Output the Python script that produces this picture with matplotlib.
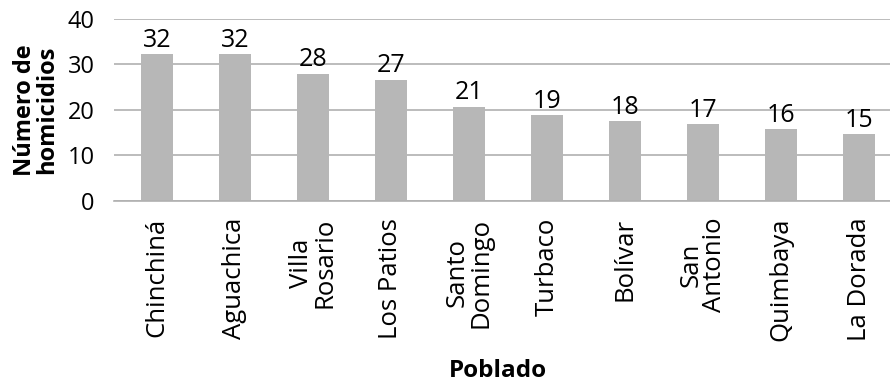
import matplotlib
matplotlib.use("Agg")
import matplotlib.pyplot as plt

plt.rcParams['font.family'] = ['Open Sans', 'DejaVu Sans']

categories = ["Chinchiná", "Aguachica", "Villa\nRosario", "Los Patios", "Santo\nDomingo",
              "Turbaco", "Bolívar", "San\nAntonio", "Quimbaya", "La Dorada"]
values = [32.2, 32.2, 28.0, 26.7, 20.7, 18.8, 17.6, 16.9, 15.8, 14.7]
yticks = [0, 10, 20, 30, 40]

fig = plt.figure(figsize=(8.9, 3.83), dpi=100)
ax = fig.add_axes([114/890, 1 - 201/383, 776/890, 182/383])

x = list(range(len(categories)))
bars = ax.bar(x, values, width=0.41, color="#b7b7b7", zorder=2)
for xi, v in zip(x, values):
    ax.text(xi, v + 0.3, f"{v:.0f}", ha="center", va="bottom", fontsize=18, color="black")

ax.set_xlim(-0.551, 9.397)
ax.set_ylim(0, 40)
ax.set_yticks(yticks)
ax.set_yticklabels([str(t) for t in yticks], fontsize=17)
ax.yaxis.grid(True, color="#b0b0b0", linewidth=1.2, zorder=0)
ax.set_axisbelow(True)
for s in ["top", "right", "left"]:
    ax.spines[s].set_visible(False)
ax.spines["bottom"].set_color("#b0b0b0")
ax.spines["bottom"].set_linewidth(1.2)
ax.tick_params(axis="both", length=0)
ax.tick_params(axis="y", pad=14)
ax.tick_params(axis="x", pad=12)
ax.set_xticks(x)
ax.set_xticklabels(categories, rotation=90, fontsize=18.5, ha="center", va="top",
                   multialignment="center", linespacing=0.9)

ax.set_ylabel("Número de\nhomicidios", fontsize=17, fontweight="bold", linespacing=0.9, labelpad=6)
fig.text(0.5 + 114/890/2 - 0.005, 1 - 371/383, "Poblado", ha="center", va="center", fontsize=17.5, fontweight="bold")

fig.savefig("out.png", dpi=100)
